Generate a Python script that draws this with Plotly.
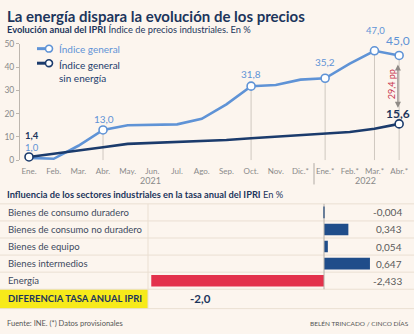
import plotly.graph_objects as go

W, H = 414, 334
def px(x): return x / W
def py(y): return 1 - y / H

# ---------------- data ----------------
months = ["Ene.", "Feb.", "Mar.", "Abr.", "May.", "Jun.", "Jul.", "Ago.", "Sep.", "Oct.",
          "Nov.", "Dic.*", "Ene.*", "Feb.*", "Mar.*", "Abr.*"]
years = ["2021", "2022"]
general = [1.0, 0.6, 6.2, 13.0, 15.0, 15.2, 15.4, 17.8, 24.0, 31.8, 32.3, 34.6, 35.2, 41.5, 47.0, 45.0]
sin_energia = [1.4, 2.7, 4.2, 5.6, 7.0, 7.4, 7.9, 8.3, 8.7, 9.4, 10.1, 10.7, 11.7, 12.1, 13.5, 15.6]
general_marked = [3, 9, 12, 14, 15]
sin_marked = [0, 15]
y_ticks = [0, 10, 20, 30, 40, 50]

sectors = ["Bienes de consumo duradero", "Bienes de consumo no duradero", "Bienes de equipo",
           "Bienes intermedios", "Energía"]
influence = [-0.004, 0.343, 0.054, 0.647, -2.433]
total_label = "DIFERENCIA TASA ANUAL IPRI"
total_value = -2.0

# ---------------- styles ----------------
BG = "#fcf5ee"
LIGHT = "#5f93d6"
DARK = "#1b3b6c"
NAVY = "#1c355c"
GREY = "#8a8a8a"
RED = "#e3314b"
BARBLUE = "#1f4d8a"
YELLOW = "#f7ea1a"
LINEC = "#eadfd2"
FONT = "Lato"

def fmt(v, d):
    return f"{v:.{d}f}".replace(".", ",")

fig = go.Figure()
idx = list(range(len(months)))

# lines
fig.add_trace(go.Scatter(x=idx, y=general, mode="lines", line=dict(color=LIGHT, width=2.6),
                         xaxis="x", yaxis="y", hoverinfo="skip", cliponaxis=False))
fig.add_trace(go.Scatter(x=idx, y=sin_energia, mode="lines", line=dict(color=DARK, width=2.6),
                         xaxis="x", yaxis="y", hoverinfo="skip", cliponaxis=False))
fig.add_trace(go.Scatter(x=[idx[i] for i in general_marked], y=[general[i] for i in general_marked],
                         mode="markers", marker=dict(size=8, color="white", line=dict(color=LIGHT, width=1.6)),
                         xaxis="x", yaxis="y", hoverinfo="skip", cliponaxis=False))
fig.add_trace(go.Scatter(x=[idx[i] for i in sin_marked], y=[sin_energia[i] for i in sin_marked],
                         mode="markers", marker=dict(size=8, color="white", line=dict(color=DARK, width=1.6)),
                         xaxis="x", yaxis="y", hoverinfo="skip", cliponaxis=False))

# bars
bar_colors = [RED if v < -1 else BARBLUE for v in influence]
fig.add_trace(go.Bar(y=list(range(len(sectors))), x=influence, orientation="h",
                     marker=dict(color=bar_colors, line=dict(width=0)),
                     width=0.68, xaxis="x2", yaxis="y2", hoverinfo="skip"))

shapes = []
annotations = []

def ann(x, y, text, size, color, xanchor="center", yanchor="middle", xref="paper", yref="paper", **kw):
    annotations.append(dict(xref=xref, yref=yref, x=x, y=y, text=text, showarrow=False,
                            xanchor=xanchor, yanchor=yanchor,
                            font=dict(family=FONT, size=size, color=color), **kw))

# drop lines
for i in general_marked:
    shapes.append(dict(type="line", xref="x", yref="y", x0=i, x1=i, y0=0, y1=general[i],
                       line=dict(color="#cfc8c0", width=1), layer="below"))

# year separator
shapes.append(dict(type="line", xref="paper", yref="paper", x0=px(314), x1=px(314), y0=py(163), y1=py(185),
                   line=dict(color="#b0aaa4", width=1)))

# data labels
def lab(i, y, text, color, size, shift, bold=False, xs=0):
    ann(i, y, f"<b>{text}</b>" if bold else text, size, color, xref="x", yref="y", yshift=shift, xshift=xs)

lab(0, sin_energia[0], fmt(sin_energia[0], 1), NAVY, 9.5, 21, True, 3)
lab(0, general[0], fmt(general[0], 1), LIGHT, 9.5, 10.5, False, 3)
lab(3, general[3], fmt(general[3], 1), LIGHT, 10, 11, False, 1)
lab(9, general[9], fmt(general[9], 1), LIGHT, 10, 12, False, 0)
lab(12, general[12], fmt(general[12], 1), LIGHT, 10, 16, False, 0)
lab(14, general[14], fmt(general[14], 1), LIGHT, 9.5, 20, False, 1)
lab(15, general[15], fmt(general[15], 1), LIGHT, 12, 15, False, -1)
lab(15, sin_energia[15], fmt(sin_energia[15], 1), NAVY, 12, 10, True, -1)

# difference arrow
diff = general[15] - sin_energia[15]
annotations.append(dict(xref="x", yref="y", axref="x", ayref="y", x=14.95, y=22.5, ax=14.95, ay=41.8,
                        text="", showarrow=True, arrowhead=2, arrowside="end+start", arrowsize=1,
                        arrowwidth=1.2, arrowcolor="#8f8a86"))
ann(14.7, 32.5, fmt(diff, 1) + " pp", 9, "#c8364f", xref="x", yref="y", textangle=-90)

# year labels
ann(px(150), py(181), years[0], 9, GREY)
ann(px(365), py(181), years[1], 9, GREY)

# legend
for yy, col in [(45, LIGHT), (60, DARK)]:
    shapes.append(dict(type="line", xref="paper", yref="paper", x0=px(37), x1=px(47), y0=py(yy), y1=py(yy),
                       line=dict(color=col, width=3)))
    shapes.append(dict(type="circle", xref="paper", yref="paper", x0=px(45.5), x1=px(52.5),
                       y0=py(yy + 3.5), y1=py(yy - 3.5), fillcolor="white", line=dict(color=col, width=1.6)))
ann(px(57), py(45), "Índice general", 10, LIGHT, xanchor="left")
ann(px(57), py(54), "Índice general<br>sin energía", 10, DARK, xanchor="left", yanchor="top", align="left")

# titles
ann(px(5), py(11), "<b>La energía dispara la evolución de los precios</b>", 15, NAVY, xanchor="left")
ann(px(5), py(25), "<b>Evolución anual del IPRI</b> Índice de precios industriales. En %", 9.3, NAVY,
    xanchor="left")
ann(px(5), py(195), "<b>Influencia de los sectores industriales en la tasa anual del IPRI</b> En %", 9.3,
    NAVY, xanchor="left")

# table
row_top, row_h = 205, 17.6
for k in range(len(sectors) + 1):
    yy = row_top + k * row_h
    shapes.append(dict(type="line", xref="paper", yref="paper", x0=0, x1=1, y0=py(yy), y1=py(yy),
                       line=dict(color=LINEC, width=1)))
bottom = row_top + len(sectors) * row_h
shapes.append(dict(type="rect", xref="paper", yref="paper", x0=0, x1=px(148), y0=py(bottom + 20), y1=py(bottom),
                   fillcolor=YELLOW, line=dict(width=0), layer="below"))
shapes.append(dict(type="line", xref="paper", yref="paper", x0=0, x1=1, y0=py(bottom + 20), y1=py(bottom + 20),
                   line=dict(color=LINEC, width=1)))
shapes.append(dict(type="line", xref="paper", yref="paper", x0=px(148), x1=px(148), y0=py(bottom + 20),
                   y1=py(row_top), line=dict(color=LINEC, width=1)))
shapes.append(dict(type="line", xref="x2", yref="paper", x0=0, x1=0, y0=py(bottom), y1=py(row_top),
                   line=dict(color="#b5b0aa", width=1)))

for k, (s, v) in enumerate(zip(sectors, influence)):
    ann(px(6), k, s, 9.5, "#3c4a5e", xanchor="left", yref="y2")
    ann(px(404), k, fmt(v, 3), 10, "#5a5a5a", xanchor="right", yref="y2")
ann(px(6), py(bottom + 10), f"<b>{total_label}</b>", 9.5, NAVY, xanchor="left")
ann(px(200), py(bottom + 10), f"<b>{fmt(total_value, 1)}</b>", 11.5, NAVY)

# footer
ann(px(5), py(328), "Fuente: INE. (*) Datos provisionales", 7.5, "#555", xanchor="left")
ann(px(411), py(328), "BELÉN TRINCADO / CINCO DÍAS", 6.5, "#555", xanchor="right")

fig.update_layout(
    width=W, height=H, margin=dict(l=0, r=0, t=0, b=0),
    paper_bgcolor=BG, plot_bgcolor="rgba(0,0,0,0)", showlegend=False,
    font=dict(family=FONT),
    xaxis=dict(domain=[px(20), px(410)], range=[-0.365, 15.44], tickvals=idx, ticktext=months,
               tickfont=dict(size=8, color=GREY), showgrid=False, zeroline=False, showline=False,
               ticks="outside", ticklen=3, tickcolor="rgba(0,0,0,0)", anchor="y", fixedrange=True),
    yaxis=dict(domain=[py(160), py(40)], range=[0, 50], tickvals=y_ticks,
               tickfont=dict(size=8.5, color=GREY), showgrid=False, zeroline=False, showline=True,
               linecolor="#bdb6ae", linewidth=1, ticks="outside", ticklen=3, tickcolor="#bdb6ae",
               anchor="x", fixedrange=True),
    xaxis2=dict(domain=[px(148), px(410)], range=[-2.479, 1.211], visible=False, anchor="y2"),
    yaxis2=dict(domain=[py(bottom), py(row_top)], range=[len(sectors) - 0.5, -0.5], visible=False,
                anchor="x2"),
    shapes=shapes, annotations=annotations,
)

fig.write_html("out.html")
